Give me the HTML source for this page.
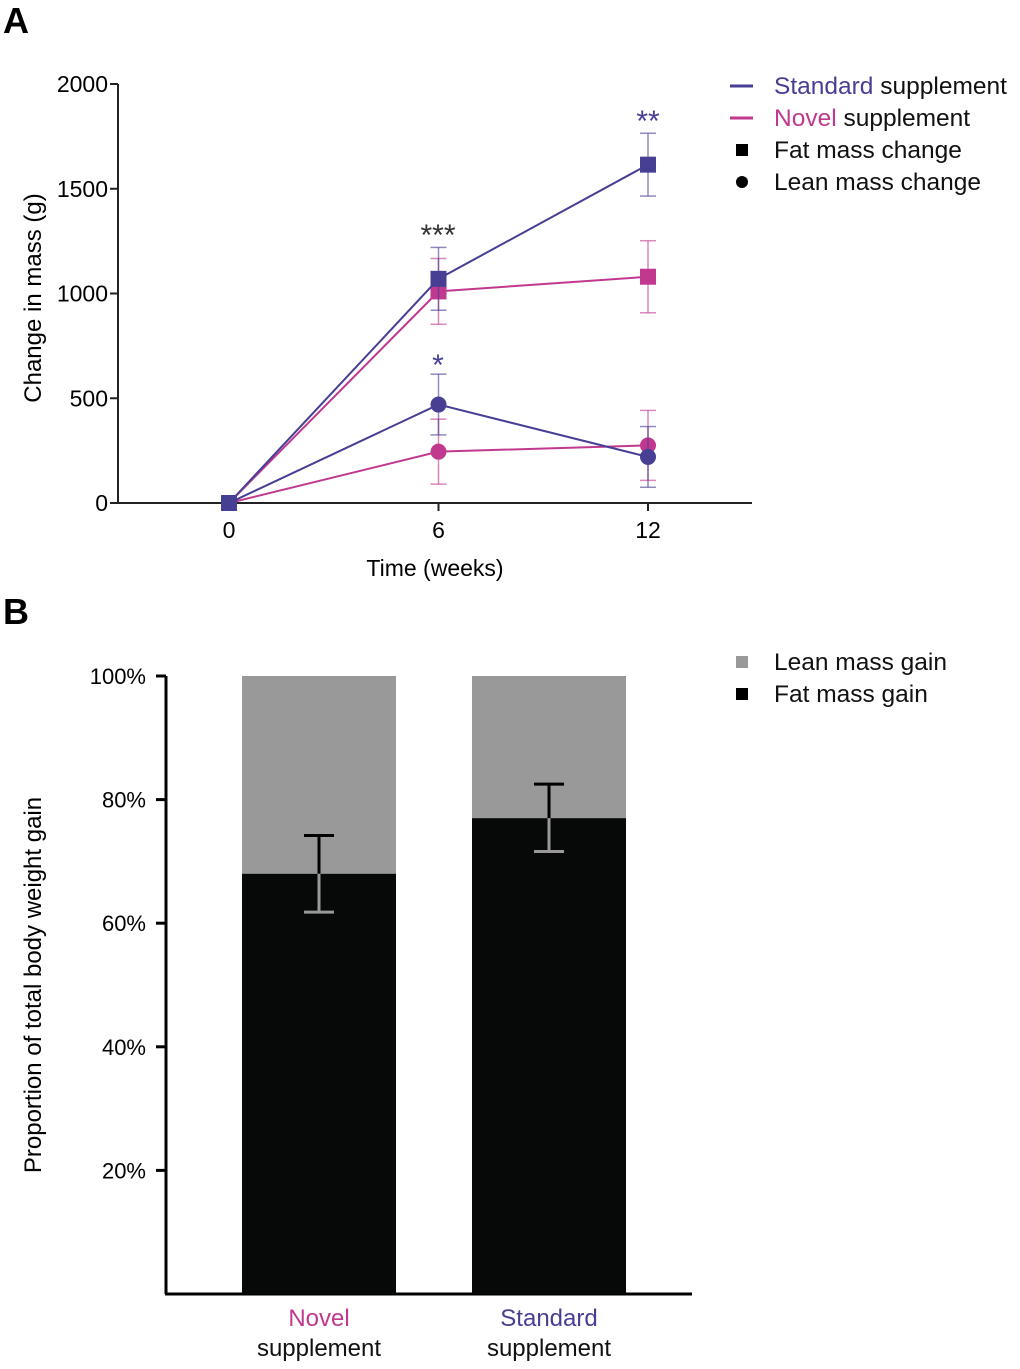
<!DOCTYPE html>
<html><head><meta charset="utf-8"><style>
body{margin:0;background:#fff;}
svg text{font-family:"Liberation Sans",sans-serif;}
</style></head><body>
<svg id="chart" width="1020" height="1364" xmlns="http://www.w3.org/2000/svg">
<text x="3" y="33" font-size="36" font-weight="bold">A</text>
<text x="3" y="624" font-size="36" font-weight="bold">B</text>
<g id="A"></g>
<g id="B"></g>
</svg>
<script>
const NS='http://www.w3.org/2000/svg';
const weeks=[0,6,12];
const stdFat=[0,1070,1615], stdFatErr=[0,150,150];
const novFat=[0,1010,1080], novFatErr=[0,157,172];
const stdLean=[0,470,220], stdLeanErr=[0,145,145];
const novLean=[0,245,275], novLeanErr=[0,155,167];
const yTicksA=[0,500,1000,1500,2000];
const groups=['Novel','Standard'];
const fatPct=[68,77], fatErrHi=[74.2,82.5], fatErrLo=[61.8,71.6];
const yTicksB=[20,40,60,80,100];
const STD='#463f94', NOV='#c0398f';
function el(p,t,a){const e=document.createElementNS(NS,t);for(const k in a)e.setAttribute(k,a[k]);p.appendChild(e);return e;}
// Panel A
const A=document.getElementById('A');
const xA=w=>229+w*(648-229)/12, yA=v=>503-v*0.2095;
let e=el(A,'line',{x1:118,y1:84,x2:118,y2:503,stroke:'#222','stroke-width':2});

e=el(A,'line',{x1:118,y1:503,x2:752,y2:503,stroke:'#222','stroke-width':2});

yTicksA.forEach(v=>{el(A,'line',{x1:110,x2:118,y1:yA(v),y2:yA(v),stroke:'#222','stroke-width':2});
 const t=el(A,'text',{x:108,y:yA(v)+8,'font-size':23,'text-anchor':'end'});t.textContent=v;
 });
weeks.forEach(w=>{el(A,'line',{x1:xA(w),x2:xA(w),y1:503,y2:511,stroke:'#222','stroke-width':2});
 const t=el(A,'text',{x:xA(w),y:538,'font-size':23,'text-anchor':'middle'});t.textContent=w;
 });
let t=el(A,'text',{x:435,y:576,'font-size':23,'text-anchor':'middle'});t.textContent='Time (weeks)';

t=el(A,'text',{x:41,y:298,'font-size':24,'text-anchor':'middle',transform:'rotate(-90 41 298)'});t.textContent='Change in mass (g)';

function series(vals,errs,col,shape,name){
 const g=el(A,'g',{});
 el(g,'polyline',{points:vals.map((v,i)=>xA(weeks[i])+','+yA(v)).join(' '),fill:'none',stroke:col,'stroke-width':2});
 vals.forEach((v,i)=>{const x=xA(weeks[i]);if(errs[i]>0){
  el(g,'line',{x1:x,x2:x,y1:yA(v+errs[i]),y2:yA(v-errs[i]),stroke:col,'stroke-width':1.5,opacity:0.6});
  [v+errs[i],v-errs[i]].forEach(q=>el(g,'line',{x1:x-8,x2:x+8,y1:yA(q),y2:yA(q),stroke:col,'stroke-width':1.5,opacity:0.6}));}
  if(shape==='sq')el(g,'rect',{x:x-8,y:yA(v)-8,width:16,height:16,fill:col});
  else el(g,'circle',{cx:x,cy:yA(v),r:8,fill:col});});
}
series(novLean,novLeanErr,NOV,'c','novel-lean-series');
series(stdLean,stdLeanErr,STD,'c','standard-lean-series');
series(novFat,novFatErr,NOV,'sq','novel-fat-series');
series(stdFat,stdFatErr,STD,'sq','standard-fat-series');
[['***',438,245,'#333'],['*',438,375,STD],['**',648,131,STD]].forEach(s=>{t=el(A,'text',{x:s[1],y:s[2],'font-size':30,'text-anchor':'middle',fill:s[3]});t.textContent=s[0];
 });
// legend A
const LA=[['Standard',' supplement',STD,'line',86],['Novel',' supplement',NOV,'line',118],['','Fat mass change','#000','sq',150],['','Lean mass change','#000','c',182]];
LA.forEach(l=>{const g=el(A,'g',{});
 if(l[3]==='line')el(g,'line',{x1:730,x2:753,y1:l[4],y2:l[4],stroke:l[2],'stroke-width':3});
 else if(l[3]==='sq')el(g,'rect',{x:736,y:l[4]-6,width:12,height:12,fill:'#000'});
 else el(g,'circle',{cx:742,cy:l[4],r:6,fill:'#000'});
 const tx=el(g,'text',{x:774,y:l[4]+8,'font-size':24.5});
 const s1=el(tx,'tspan',{fill:l[2]});s1.textContent=l[0];const s2=el(tx,'tspan',{fill:'#111'});s2.textContent=l[1];});
// Panel B
const B=document.getElementById('B');
const yB=p=>1294-p*6.18, barX=[242,472], bw=154;
e=el(B,'line',{x1:166,y1:676,x2:166,y2:1294,stroke:'#000','stroke-width':3});

e=el(B,'line',{x1:165,y1:1294,x2:692,y2:1294,stroke:'#000','stroke-width':3});

yTicksB.forEach(v=>{el(B,'line',{x1:156,x2:166,y1:yB(v),y2:yB(v),stroke:'#000','stroke-width':3});
 const t=el(B,'text',{x:146,y:yB(v)+8,'font-size':22,'text-anchor':'end'});t.textContent=v+'%';
 });
t=el(B,'text',{x:41,y:985,'font-size':24,'text-anchor':'middle',transform:'rotate(-90 41 985)'});t.textContent='Proportion of total body weight gain';

groups.forEach((gname,i)=>{const x=barX[i],cx=x+bw/2;
 let r=el(B,'rect',{x:x,y:yB(100),width:bw,height:yB(fatPct[i])-yB(100),fill:'#999'});
 
 r=el(B,'rect',{x:x,y:yB(fatPct[i]),width:bw,height:yB(0)-yB(fatPct[i]),fill:'#070808'});
 
 el(B,'line',{x1:cx,x2:cx,y1:yB(fatErrHi[i]),y2:yB(fatPct[i]),stroke:'#000','stroke-width':3});
 el(B,'line',{x1:cx,x2:cx,y1:yB(fatPct[i]),y2:yB(fatErrLo[i]),stroke:'#999','stroke-width':3});
 el(B,'line',{x1:cx-15,x2:cx+15,y1:yB(fatErrHi[i]),y2:yB(fatErrHi[i]),stroke:'#000','stroke-width':3});
 el(B,'line',{x1:cx-15,x2:cx+15,y1:yB(fatErrLo[i]),y2:yB(fatErrLo[i]),stroke:'#999','stroke-width':3});
 let tx=el(B,'text',{x:cx,y:1326,'font-size':24,'text-anchor':'middle',fill:i?STD:NOV});tx.textContent=gname;
 
 tx=el(B,'text',{x:cx,y:1356,'font-size':24,'text-anchor':'middle',fill:'#111'});tx.textContent='supplement';
 });
[['Lean mass gain','#999',662],['Fat mass gain','#000',694]].forEach(l=>{const g=el(B,'g',{});
 
 el(g,'rect',{x:736,y:l[2]-6,width:12,height:12,fill:l[1]});
 const tx=el(g,'text',{x:774,y:l[2]+8,'font-size':24.5,fill:'#111'});tx.textContent=l[0];});
</script>
</body></html>
